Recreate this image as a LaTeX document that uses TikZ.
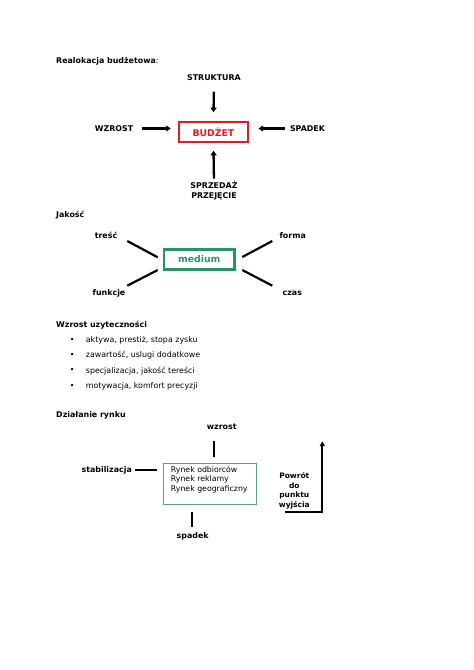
\documentclass[tikz,border=0pt]{standalone}
\usepackage{fontspec}
\setmainfont{DejaVu Sans}
\usetikzlibrary{arrows.meta}
\definecolor{budred}{RGB}{220,30,40}
\definecolor{medgreen}{RGB}{40,150,100}
\definecolor{rynekbox}{RGB}{95,155,148}
\tikzset{
  txt/.style={inner sep=0pt, font=\fontsize{7.9}{9.5}\selectfont},
  btxt/.style={inner sep=0pt, font=\fontsize{7.9}{9.5}\selectfont\bfseries},
  head/.style={btxt, anchor=west},
  bigarrow/.style={line width=2.3pt, -{Triangle[length=4.5pt,width=6pt]}},
  thickline/.style={line width=2.2pt},
}
\begin{document}
\begin{tikzpicture}[x=1pt,y=-1pt]
\useasboundingbox[fill=white] (0,0) rectangle (474,670);

% ---- Section 1
\node[head] (h1) at (56,61) {Realokacja budżetowa\mdseries:};
\node[btxt] (struk) at (214,78) {STRUKTURA};
\node[draw=budred, line width=2pt, minimum width=69.3pt, minimum height=20.6pt, inner sep=0pt,
      text=budred, font=\fontsize{9.3}{11}\selectfont\bfseries] (bud) at (213.4,132) {BUDŻET};
\node[btxt] (wzr) at (114,128.5) {WZROST};
\node[btxt] (spa) at (307.5,128.5) {SPADEK};
\node[btxt, align=center] (sprz) at (214,190.5) {SPRZEDAŻ\\PRZEJĘCIE};
\draw[bigarrow, shorten <=10.5pt, shorten >=8.5pt] (struk.south) -- (bud.north);
\draw[bigarrow, shorten <=8.5pt, shorten >=7pt] (wzr.east) -- (wzr.east -| bud.west);
\draw[bigarrow, shorten <=4.5pt, shorten >=9.5pt] (spa.west) -- (spa.west -| bud.east);
\draw[bigarrow, shorten <=2.5pt, shorten >=7.5pt] (sprz.north) -- (bud.south);

% ---- Section 2
\node[head] (h2) at (56,215) {Jakość};
\node[draw=medgreen, line width=2.5pt, minimum width=70.7pt, minimum height=19.8pt, inner sep=0pt,
      text=medgreen, font=\fontsize{9.3}{11}\selectfont\bfseries] (med) at (199.3,259.5) {medium};
\node[btxt] (tresc) at (106,235.7) {treść};
\node[btxt] (forma) at (292.7,235.7) {forma};
\node[btxt] (funk) at (109,293.3) {funkcje};
\node[btxt] (czas) at (292.3,293) {czas};
\coordinate (tl1) at (127.3,241);   \coordinate (tl2) at (157.7,257.3);
\coordinate (bl1) at (127.3,285.7); \coordinate (bl2) at (157.7,270);
\coordinate (tr1) at (272.3,241);   \coordinate (tr2) at (242.3,257);
\coordinate (br1) at (272.3,285.7); \coordinate (br2) at (242.3,270);
\draw[thickline] (tl1) -- (tl2);
\draw[thickline] (bl1) -- (bl2);
\draw[thickline] (tr1) -- (tr2);
\draw[thickline] (br1) -- (br2);

% ---- Section 3
\node[head] (h3) at (56,325) {Wzrost uzyteczności};
\node[txt] (b1) at (72.3,340) {•};
\node[txt] (b2) at (72.3,355) {•};
\node[txt] (b3) at (72.3,370.7) {•};
\node[txt] (b4) at (72.3,386) {•};
\node[txt, anchor=west] (t1) at (85.7,340) {aktywa, prestiż, stopa zysku};
\node[txt, anchor=west] (t2) at (85.7,355) {zawartość, uslugi dodatkowe};
\node[txt, anchor=west] (t3) at (85.7,370.7) {specjalizacja, jakość tereści};
\node[txt, anchor=west] (t4) at (85.7,386) {motywacja, komfort precyzji};

% ---- Section 4
\node[head] (h4) at (56,415.5) {Działanie rynku};
\node[draw=rynekbox, line width=1pt, minimum width=92.4pt, minimum height=41.3pt, inner sep=0pt] (ryn) at (210,483.85) {};
\node[txt, anchor=north west, align=left, font=\fontsize{7.8}{9.2}\selectfont] (ryntxt) at (170.7,466.2)
   {Rynek odbiorców\\Rynek reklamy\\Rynek geograficzny};
\node[btxt] (wz) at (221.7,426.7) {wzrost};
\node[btxt] (stab) at (106.7,470.7) {stabilizacja};
\node[btxt] (spd) at (192.7,536.7) {spadek};
\node[btxt, align=center, font=\fontsize{7.5}{9.5}\selectfont\bfseries] (pow) at (294.3,490.8)
   {Powrót\\do\\punktu\\wyjścia};
\coordinate (wzA) at (214,440.7);  \coordinate (wzB) at (214,456.7);
\coordinate (stA) at (135,470);    \coordinate (stB) at (157.3,470);
\coordinate (spA) at (192.3,511.7); \coordinate (spB) at (192.3,526.7);
\draw[thickline] (wzA) -- (wzB);
\draw[thickline] (stA) -- (stB);
\draw[thickline] (spA) -- (spB);
\coordinate (powA) at (285,512.3);
\coordinate (powC) at (322.3,512.3);
\coordinate (powB) at (322.3,441.2);
\draw[line width=2pt, -{Triangle[length=5pt,width=5pt]}] (powA) -- (powC) -- (powB);
\end{tikzpicture}
\end{document}
